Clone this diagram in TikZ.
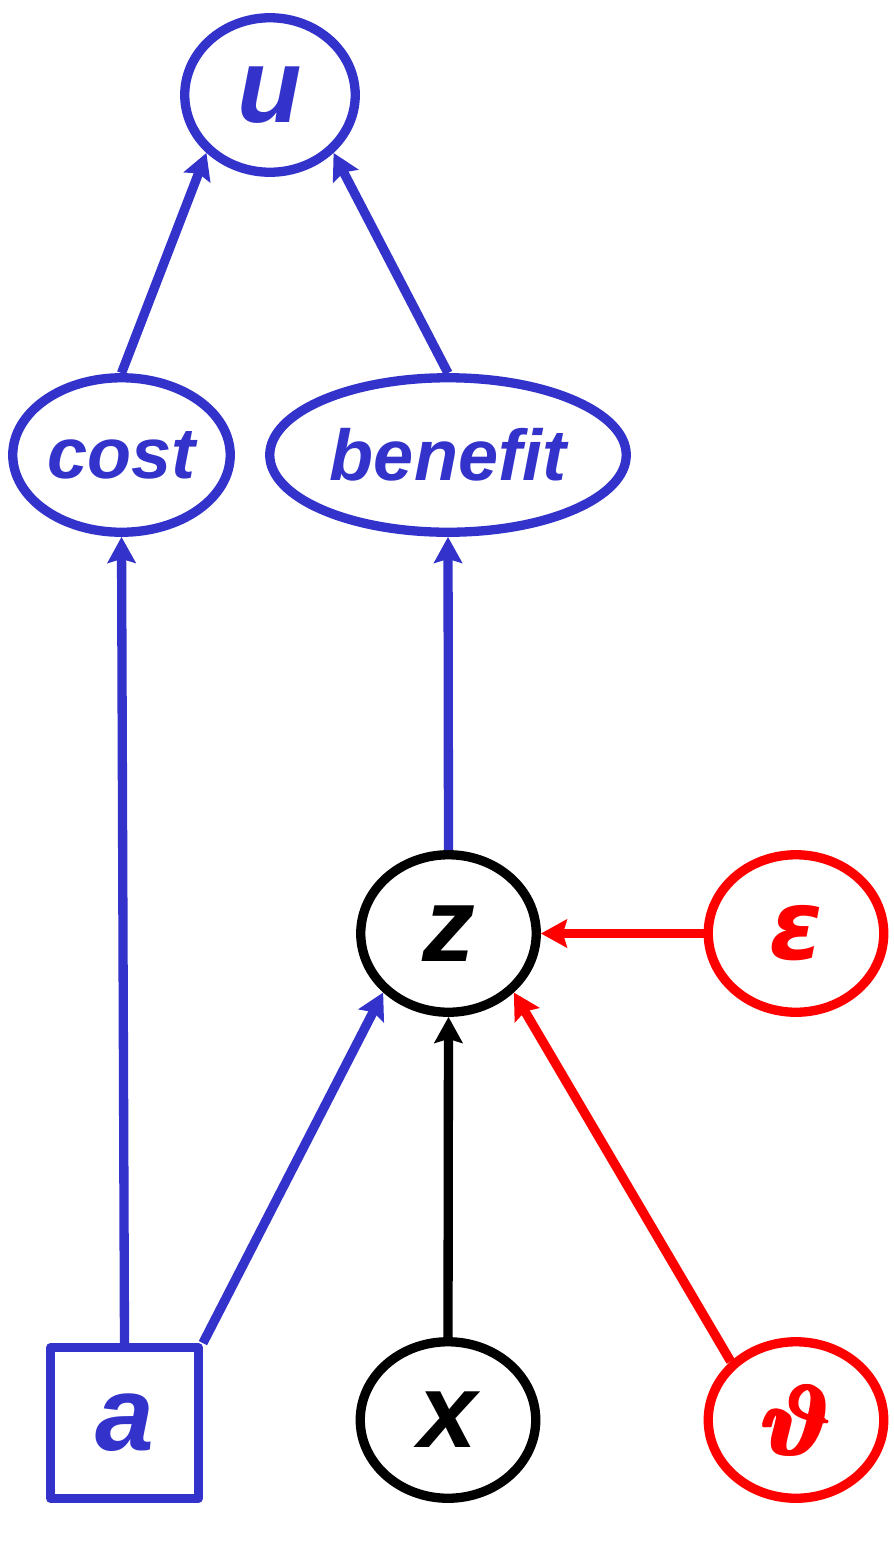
\documentclass[tikz,border=0pt]{standalone}
\usepackage{fontspec}
\usepackage{graphicx}
\usepackage{bm}
\setmainfont{Liberation Sans}
\newfontfamily\greekfont{DejaVu Sans}
\usetikzlibrary{arrows.meta,shapes.geometric}
\definecolor{nodeblue}{RGB}{51,51,204}
\definecolor{nodered}{RGB}{255,0,0}
% heavy cursive theta, thickened by overlaid copies
\newcommand{\thetaglyph}{\scalebox{5.6}{$\bm{\vartheta}$}}
\newcommand{\heavytheta}{\rlap{\thetaglyph}\rlap{\kern1.4pt\thetaglyph}\rlap{\raisebox{1.2pt}{\thetaglyph}}\rlap{\kern1.4pt\raisebox{1.2pt}{\thetaglyph}}\kern2.8pt\thetaglyph}

\begin{document}
\begin{tikzpicture}[
    link/.style={-{Stealth[length=0.52cm,width=0.56cm,inset=0.08cm]},line width=5.3pt},
    chance/.style={ellipse,draw,line width=5.3pt,inner sep=0pt,minimum width=3.51cm,minimum height=3.13cm,font=\fontsize{60}{72}\selectfont\bfseries\itshape},
    valuenode/.style={ellipse,draw,line width=5.3pt,inner sep=0pt,minimum height=3.09cm,font=\fontsize{41}{50}\selectfont\bfseries\itshape},
    decision/.style={rectangle,draw,line width=5.3pt,line join=round,minimum width=2.95cm,minimum height=3.01cm,font=\fontsize{60}{72}\selectfont\bfseries\itshape}
]
\useasboundingbox (0,0) rectangle (17.86,-30.88);

% Utility and its parts
\node[chance,nodeblue,minimum width=3.41cm,minimum height=3.09cm] (u) at (5.40,-1.90) {u};
\node[valuenode,nodeblue,minimum width=4.35cm] (cost) at (2.43,-9.10) {cost};
\node[valuenode,nodeblue,minimum width=7.13cm] (benefit) at (8.96,-9.10) {benefit};

% Outcome and noise
\node[chance,minimum height=3.15cm] (z) at (8.97,-18.67) {z};
\node[chance,nodered,minimum height=3.15cm] (eps) at (15.92,-18.67) {\greekfont\bfseries\itshape\fontsize{55}{66}\selectfont ε};

% Action, state and parameter
\node[decision,nodeblue] (a) at (2.49,-28.46) {a};
\node[chance] (x) at (8.96,-28.40) {x};
\node[chance,nodered] (theta) at (15.92,-28.40) {\normalsize\heavytheta};

% Links
\draw[link,nodeblue] (cost.north) -- (u.south west);
\draw[link,nodeblue] (benefit.north) -- (u.south east);
\draw[link,nodeblue] (z.north) -- (benefit.south);
\draw[link,nodeblue] (a.north) -- (cost.south);
\draw[link,nodeblue] (a.north east) -- (z.south west);
\draw[link] (x.north) -- (z.south);
\draw[link,nodered] (eps.west) -- (z.east);
\draw[link,nodered] (theta.north west) -- (z.south east);

\end{tikzpicture}
\end{document}
